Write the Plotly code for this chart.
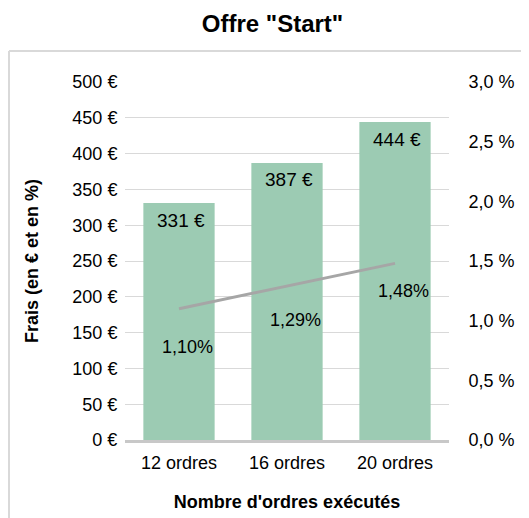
import plotly.graph_objects as go

categories = ["12 ordres", "16 ordres", "20 ordres"]
frais_eur = [331, 387, 444]
frais_pct = [1.10, 1.29, 1.48]
pct_labels = ["1,10%", "1,29%", "1,48%"]
eur_labels = ["331 €", "387 €", "444 €"]

FONT = "Liberation Sans, Arial, sans-serif"
FS = 18
pct_label_shift = [-38, -34, -28]

fig = go.Figure()
fig.add_trace(go.Bar(
    x=categories, y=frais_eur,
    marker=dict(color="#9ccbb3", line=dict(width=0)), showlegend=False,
))
fig.add_trace(go.Scatter(
    x=categories, y=frais_pct, yaxis="y2", mode="lines",
    line=dict(color="#a6a6a6", width=3), showlegend=False,
))
for c, v, t in zip(categories, frais_eur, eur_labels):
    fig.add_annotation(x=c, y=v, yref="y", xref="x", text=t, showarrow=False,
                       yshift=-17, xshift=2, yanchor="middle",
                       font=dict(size=19, color="#000000", family=FONT))
for c, v, t, s in zip(categories, frais_pct, pct_labels, pct_label_shift):
    fig.add_annotation(x=c, y=v, yref="y2", xref="x", text=t, showarrow=False,
                       yshift=s, xshift=8, yanchor="middle",
                       font=dict(size=FS, color="#000000", family=FONT))

# outer frame (top and left edges; the rest lies outside the picture)
frame = dict(color="#d9d9d9", width=2)
fig.add_shape(type="line", xref="paper", yref="paper",
              x0=-0.358, x1=1.5, y0=1.0866, y1=1.0866, line=frame, layer="below")
fig.add_shape(type="line", xref="paper", yref="paper",
              x0=-0.358, x1=-0.358, y0=-0.5, y1=1.0866, line=frame, layer="below")

fig.update_layout(
    width=529, height=518,
    margin=dict(l=117, r=88, t=74, b=86),
    paper_bgcolor="white", plot_bgcolor="white",
    separators=", ",
    bargap=0.34,
    font=dict(family=FONT, size=FS, color="#000000"),
    title=dict(text='<b>Offre "Start"</b>', x=0.5, xref="container", xanchor="center",
               y=0.97, yanchor="middle", font=dict(size=24, family=FONT, color="#000000")),
    xaxis=dict(showgrid=False, showline=True, linecolor="#c8c8c8", linewidth=3,
               ticks="outside", ticklen=4, tickcolor="rgba(0,0,0,0)",
               tickfont=dict(size=FS), automargin=False,
               title=dict(text="<b>Nombre d'ordres exécutés</b>", font=dict(size=FS), standoff=24)),
    yaxis=dict(range=[0, 500], dtick=50, ticksuffix=" €", showgrid=True,
               gridcolor="#d9d9d9", gridwidth=1, zeroline=False, showline=False,
               tickfont=dict(size=FS), ticks="outside", ticklen=3, tickcolor="rgba(0,0,0,0)",
               automargin=False,
               title=dict(text="<b>Frais (en € et en %)</b>", font=dict(size=FS), standoff=29)),
    yaxis2=dict(range=[0, 3], dtick=0.5, tickformat=".1f", ticksuffix=" %",
                overlaying="y", side="right", showgrid=False, zeroline=False,
                tickfont=dict(size=FS), ticks="outside", ticklen=15, tickcolor="rgba(0,0,0,0)",
                automargin=False),
)

fig.write_html("out.html", config={"displayModeBar": False})
